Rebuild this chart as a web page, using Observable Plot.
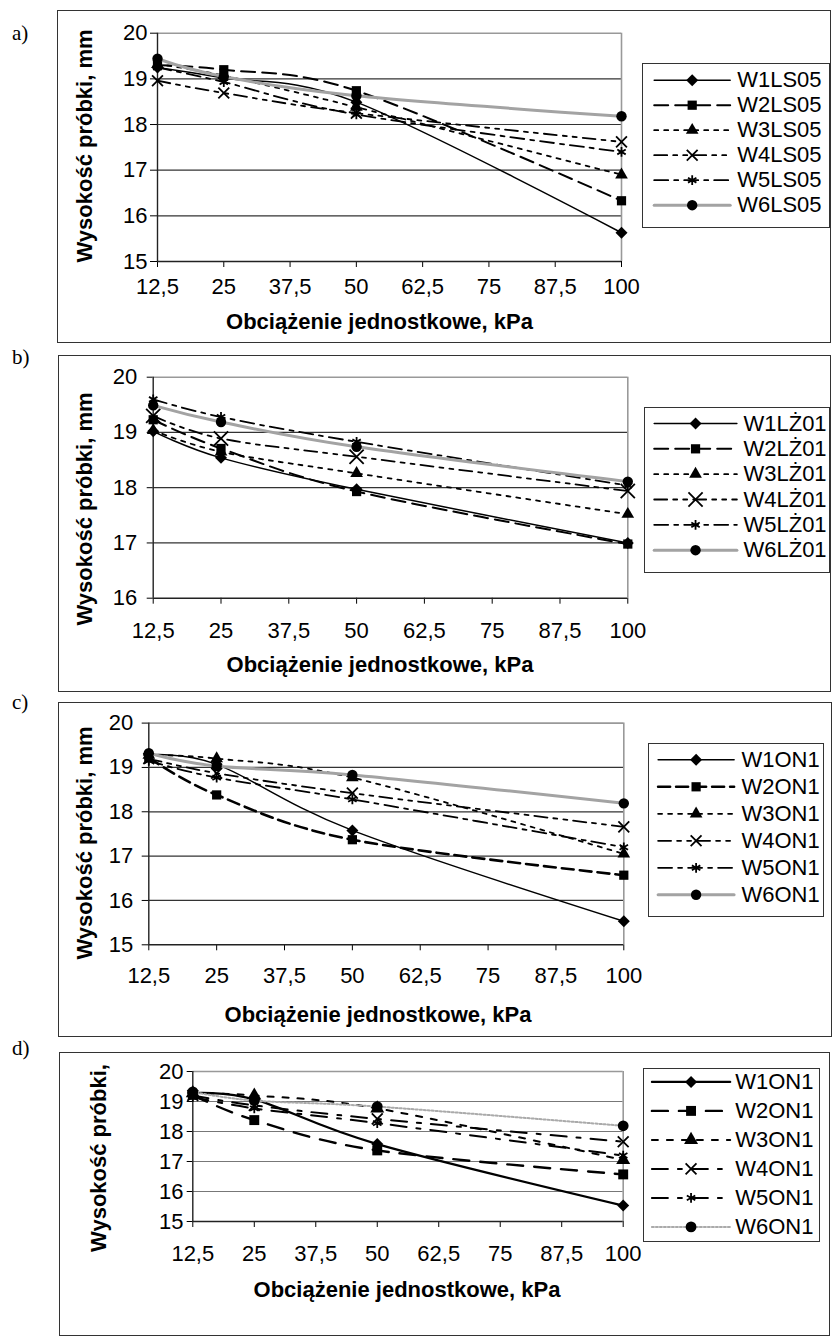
<!DOCTYPE html>
<html><head><meta charset="utf-8">
<script src="https://cdn.jsdelivr.net/npm/d3@7"></script>
<script src="https://cdn.jsdelivr.net/npm/@observablehq/plot@0.6"></script>
<style>
html,body{margin:0;padding:0;background:#fff;}
#page{position:relative;width:835px;height:1341px;overflow:hidden;font-family:"Liberation Sans",Arial,sans-serif;color:#000;}
.box{position:absolute;border:1.6px solid #333;box-sizing:border-box;}
.leg{position:absolute;border:1.5px solid #333;box-sizing:border-box;background:#fff;}
.xt{position:absolute;width:500px;text-align:center;font-weight:bold;font-size:22px;line-height:22px;white-space:nowrap;}
.yt{position:absolute;font-weight:bold;font-size:22px;line-height:22px;white-space:nowrap;transform:translate(-50%,-50%) rotate(-90deg);}
.pl{position:absolute;font-family:"Liberation Serif","Times New Roman",serif;font-size:21px;line-height:21px;}
</style></head><body><div id="page"></div>
<script>
// ---- data ----
const loads = [12.5, 25, 50, 100];
const xTicks = [12.5, 25, 37.5, 50, 62.5, 75, 87.5, 100];
const yTicks15 = [15, 16, 17, 18, 19, 20];
const yTicks16 = [16, 17, 18, 19, 20];

const namesA = ["W1LS05", "W2LS05", "W3LS05", "W4LS05", "W5LS05", "W6LS05"];
const namesB = ["W1LŻ01", "W2LŻ01", "W3LŻ01", "W4LŻ01", "W5LŻ01", "W6LŻ01"];
const namesC = ["W1ON1", "W2ON1", "W3ON1", "W4ON1", "W5ON1", "W6ON1"];

// panel a
const aW1 = [19.25, 19.02, 18.49, 15.63];
const aW2 = [19.30, 19.20, 18.74, 16.33];
const aW3 = [19.32, 19.07, 18.38, 16.90];
const aW4 = [18.96, 18.69, 18.25, 17.62];
const aW5 = [19.25, 18.93, 18.22, 17.40];
const aW6 = [19.44, 19.05, 18.63, 18.18];
// panel b
const bW1 = [19.02, 18.54, 17.97, 17.00];
const bW2 = [19.23, 18.71, 17.93, 16.98];
const bW3 = [19.04, 18.65, 18.26, 17.52];
const bW4 = [19.30, 18.89, 18.56, 17.94];
const bW5 = [19.60, 19.28, 18.83, 18.04];
const bW6 = [19.49, 19.19, 18.74, 18.11];
// panels c and d (same series)
const cW1 = [19.28, 19.07, 17.58, 15.53];
const cW2 = [19.22, 18.38, 17.37, 16.57];
const cW3 = [19.28, 19.20, 18.77, 17.05];
const cW4 = [19.20, 18.87, 18.42, 17.66];
const cW5 = [19.15, 18.77, 18.28, 17.20];
const cW6 = [19.32, 19.03, 18.83, 18.19];

// ---- styles ----
const baseStyles = [
  {dash: null, width: 1.5, color: "#000", symbol: "diamond2", filled: true, r: 5.4},
  {dash: "14,7", width: 2, color: "#000", symbol: "square", filled: true, r: 5.2},
  {dash: "4,6", width: 1.8, color: "#000", symbol: "triangle", filled: true, r: 4.7},
  {dash: "13,6,4,6,4,6", width: 1.8, color: "#000", symbol: "times", filled: false, r: 5},
  {dash: "14,6,4,6", width: 1.8, color: "#000", symbol: "asterisk", filled: false, r: 4.6},
  {dash: null, width: 3, color: "#a3a3a3", symbol: "circle", filled: true, r: 5.2}
];
const stylesB = baseStyles.map((s, i) => i === 3 ? {...s, r: 6.5} : s);
const stylesC = baseStyles.map((s, i) => i === 1 ? {...s, dash: "12,6", width: 2.6} : s);
const stylesD = [
  {...baseStyles[0], width: 2.2},
  {...baseStyles[1], dash: "16,11", width: 2.4, r: 5.6},
  {...baseStyles[2], dash: "6,9", width: 2, r: 5.2},
  {...baseStyles[3], dash: "16,10,4,10", width: 2},
  {...baseStyles[4], dash: "16,10,4,10", width: 2},
  {...baseStyles[5], dash: "2,2", width: 2, color: "#aaa", r: 5.4}
];

const page = document.getElementById("page");
const fmt = d => String(d).replace(".", ",");
const fmtY = d => String(d);

function dotOpts(s) {
  return s.filled
    ? {symbol: s.symbol, r: s.r, fill: "#000", stroke: "none"}
    : {symbol: s.symbol, r: s.r, fill: "none", stroke: "#000", strokeWidth: 1.8};
}
function lineOpts(s) {
  const o = {stroke: s.color, strokeWidth: s.width};
  if (s.dash) o.strokeDasharray = s.dash;
  return o;
}
function el(cls, css, text) {
  const d = document.createElement("div");
  d.className = cls;
  Object.assign(d.style, css);
  if (text != null) d.textContent = text;
  page.appendChild(d);
  return d;
}

function drawPanel(cfg) {
  const {box, plot, series, names, styles, yTicks} = cfg;
  el("box", {left: box.l + "px", top: box.t + "px", width: (box.r - box.l) + "px", height: (box.b - box.t) + "px"});
  el("pl", {left: "12px", top: (cfg.label.base - 17.6) + "px"}, cfg.label.text);

  const W = 640, H = box.b - box.t;
  const rows = series.map(vals => vals.map((h, j) => ({load: loads[j], h})));
  const yMin = yTicks[0], yMax = yTicks[yTicks.length - 1];
  const marks = [
    Plot.ruleY(yTicks.slice(1, -1), {stroke: cfg.grid, strokeWidth: 1.2}),
    Plot.ruleY([yMax], {stroke: "#999", strokeWidth: 1.6}),
    Plot.ruleX([100], {stroke: "#999", strokeWidth: 1.6}),
    Plot.ruleY([yMin], {stroke: "#222", strokeWidth: 1.4}),
    Plot.ruleX([12.5], {stroke: "#222", strokeWidth: 1.4})
  ];
  rows.forEach((r, i) => {
    marks.push(Plot.line(r, {x: "load", y: "h", curve: "cardinal", ...lineOpts(styles[i])}));
    marks.push(Plot.dot(r, {x: "load", y: "h", ...dotOpts(styles[i])}));
  });
  const svg = Plot.plot({
    width: W, height: H,
    marginLeft: plot.l, marginRight: W - plot.r,
    marginTop: plot.t - box.t, marginBottom: box.b - plot.b,
    x: {domain: [12.5, 100], ticks: xTicks, tickFormat: fmt, tickSize: cfg.xTick[0], tickPadding: cfg.xTick[1], label: null},
    y: {domain: [yMin, yMax], ticks: yTicks, tickFormat: fmtY, tickSize: cfg.yTick[0], tickPadding: cfg.yTick[1], label: null},
    style: {background: "transparent", overflow: "visible", fontSize: "22px", fontFamily: "'Liberation Sans', Arial, sans-serif", color: "#000"},
    marks
  });
  Object.assign(svg.style, {position: "absolute", left: "0px", top: box.t + "px", maxWidth: "none"});
  page.appendChild(svg);

  // legend
  const L = cfg.legend;
  const Lw = L.r - L.l, Lh = L.b - L.t;
  const lg = el("leg", {left: L.l + "px", top: L.t + "px", width: Lw + "px", height: Lh + "px"});
  const lmarks = [];
  names.forEach((n, i) => {
    lmarks.push(Plot.line([{x: 0, y: i}, {x: 1, y: i}], {x: "x", y: "y", ...lineOpts(styles[i])}));
    lmarks.push(Plot.dot([{x: 0.5, y: i}], {x: "x", y: "y", ...dotOpts(styles[i])}));
  });
  lmarks.push(Plot.text(names.map((n, i) => ({n, x: 1, y: i})), {x: "x", y: "y", text: "n", textAnchor: "start", dx: L.text - L.line[1], fontSize: 22}));
  const lsvg = Plot.plot({
    width: Lw, height: Lh,
    marginLeft: L.line[0] - L.l, marginRight: Lw - (L.line[1] - L.l),
    marginTop: 0, marginBottom: 0,
    x: {domain: [0, 1], axis: null},
    y: {domain: [0, 5], range: [L.y[0] - L.t, L.y[1] - L.t], axis: null},
    style: {background: "transparent", overflow: "visible", fontSize: "22px", fontFamily: "'Liberation Sans', Arial, sans-serif", color: "#000"},
    marks: lmarks
  });
  Object.assign(lsvg.style, {position: "absolute", left: "-1.5px", top: "-1.5px", maxWidth: "none"});
  lg.appendChild(lsvg);

  // axis titles
  el("xt", {left: (cfg.xTitle.cx - 250) + "px", top: (cfg.xTitle.base - 18.6) + "px"}, "Obciążenie jednostkowe, kPa");
  el("yt", {left: cfg.yTitle.cx + "px", top: cfg.yTitle.cy + "px"}, cfg.yTitle.text);
}

drawPanel({
  box: {l: 57.3, t: 10, r: 831, b: 343},
  plot: {l: 157, r: 621, t: 32.7, b: 261},
  series: [aW1, aW2, aW3, aW4, aW5, aW6], names: namesA, styles: baseStyles, yTicks: yTicks15,
  grid: "#333", yTick: [7, 3], xTick: [6, 10.7],
  legend: {l: 642.3, t: 63.3, r: 830, b: 228.3, line: [654, 730], y: [80, 205], text: 737},
  xTitle: {cx: 379.5, base: 330}, yTitle: {cx: 85, cy: 145.5, text: "Wysokość próbki, mm"},
  label: {text: "a)", base: 40.2}
});
drawPanel({
  box: {l: 57.7, t: 355, r: 831, b: 691.7},
  plot: {l: 152.7, r: 627.3, t: 376.7, b: 597.7},
  series: [bW1, bW2, bW3, bW4, bW5, bW6], names: namesB, styles: stylesB, yTicks: yTicks16,
  grid: "#333", yTick: [6, 10], xTick: [6, 18.4],
  legend: {l: 644.3, t: 407.3, r: 830, b: 573.3, line: [654, 736.7], y: [423.3, 550], text: 743.3},
  xTitle: {cx: 380, base: 673}, yTitle: {cx: 85, cy: 509, text: "Wysokość próbki, mm"},
  label: {text: "b)", base: 364.5}
});
drawPanel({
  box: {l: 57.7, t: 701.7, r: 831.7, b: 1036.7},
  plot: {l: 148.3, r: 623.3, t: 722.3, b: 944},
  series: [cW1, cW2, cW3, cW4, cW5, cW6], names: namesC, styles: stylesC, yTicks: yTicks15,
  grid: "#333", yTick: [6.6, 9], xTick: [6, 16.4],
  legend: {l: 647.7, t: 742.7, r: 824.3, b: 917.3, line: [658.3, 734.3], y: [760, 895], text: 741.7},
  xTitle: {cx: 378, base: 1023}, yTitle: {cx: 85, cy: 843, text: "Wysokość próbki, mm"},
  label: {text: "c)", base: 709.5}
});
drawPanel({
  box: {l: 59.3, t: 1052, r: 830, b: 1336},
  plot: {l: 192.3, r: 622.7, t: 1071, b: 1221},
  series: [cW1, cW2, cW3, cW4, cW5, cW6], names: namesC, styles: stylesD, yTicks: yTicks15,
  grid: "#777", yTick: [5.6, 3.7], xTick: [6, 17.4],
  legend: {l: 643.3, t: 1068.3, r: 820, b: 1242.3, line: [651.7, 730], y: [1081.7, 1226.7], text: 735},
  xTitle: {cx: 407, base: 1298}, yTitle: {cx: 99, cy: 1158, text: "Wysokość próbki,"},
  label: {text: "d)", base: 1056}
});
</script>
</body></html>
